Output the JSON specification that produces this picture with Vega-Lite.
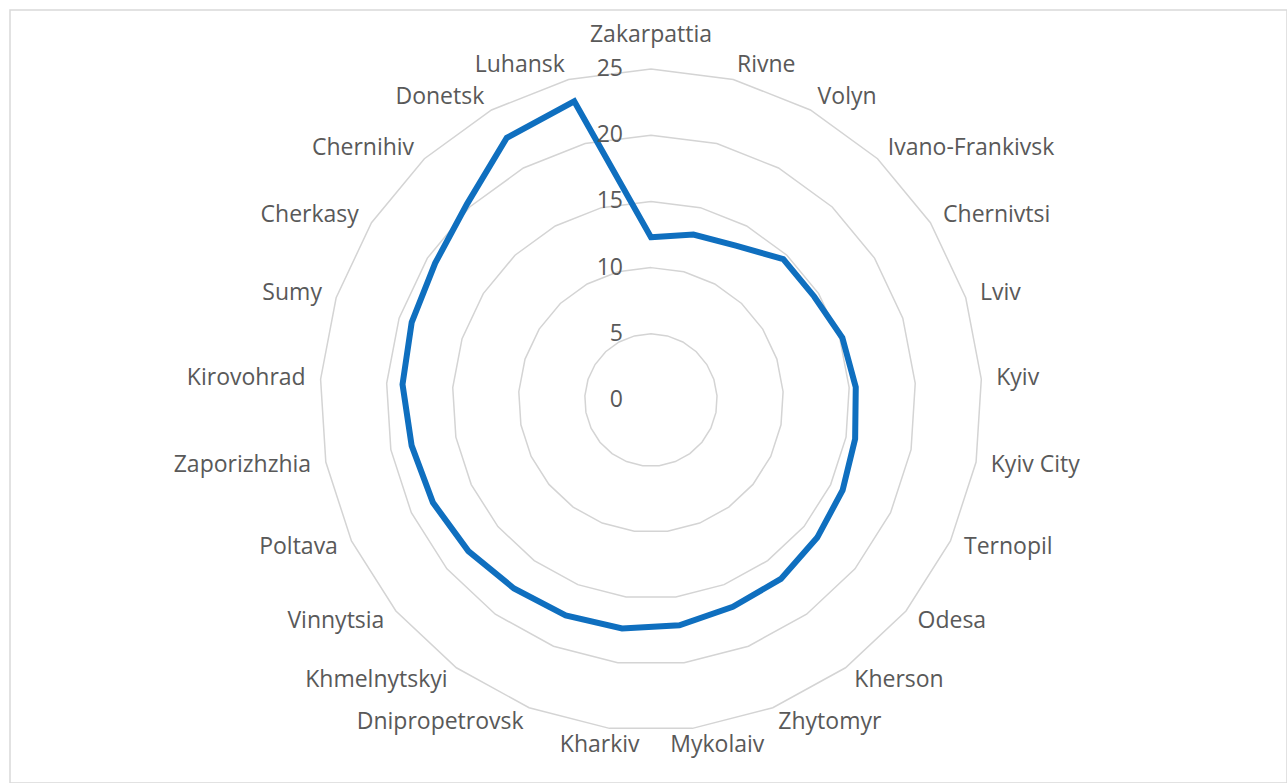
{
  "$schema": "https://vega.github.io/schema/vega-lite/v6.json",
  "width": 1277,
  "height": 773,
  "autosize": "none",
  "padding": {"left": 10, "top": 10, "right": 0, "bottom": 0},
  "background": "white",
  "config": {"view": {"stroke": "#D9D9D9", "strokeWidth": 1.5}, "font": "Open Sans"},
  "datasets": {
    "regions": [
      {"idx": 0, "region": "Zakarpattia", "value": 12.3},
      {"idx": 1, "region": "Rivne", "value": 12.9},
      {"idx": 2, "region": "Volyn", "value": 13.3},
      {"idx": 3, "region": "Ivano-Frankivsk", "value": 14.6},
      {"idx": 4, "region": "Chernivtsi", "value": 14.6},
      {"idx": 5, "region": "Lviv", "value": 15.2},
      {"idx": 6, "region": "Kyiv", "value": 15.5},
      {"idx": 7, "region": "Kyiv City", "value": 15.7},
      {"idx": 8, "region": "Ternopil", "value": 16.0},
      {"idx": 9, "region": "Odesa", "value": 16.3},
      {"idx": 10, "region": "Kherson", "value": 16.7},
      {"idx": 11, "region": "Zhytomyr", "value": 16.8},
      {"idx": 12, "region": "Mykolaiv", "value": 17.15},
      {"idx": 13, "region": "Kharkiv", "value": 17.4},
      {"idx": 14, "region": "Dnipropetrovsk", "value": 17.5},
      {"idx": 15, "region": "Khmelnytskyi", "value": 17.6},
      {"idx": 16, "region": "Vinnytsia", "value": 17.9},
      {"idx": 17, "region": "Poltava", "value": 18.2},
      {"idx": 18, "region": "Zaporizhzhia", "value": 18.4},
      {"idx": 19, "region": "Kirovohrad", "value": 18.8},
      {"idx": 20, "region": "Sumy", "value": 19.0},
      {"idx": 21, "region": "Cherkasy", "value": 19.3},
      {"idx": 22, "region": "Chernihiv", "value": 20.3},
      {"idx": 23, "region": "Donetsk", "value": 22.6},
      {"idx": 24, "region": "Luhansk", "value": 23.3}
    ]
  },
  "data": {"name": "regions"},
  "transform": [{"calculate": "datum.idx * 2 * PI / 25", "as": "angle"}],
  "encoding": {
    "x": {"field": "px", "type": "quantitative", "scale": {"domain": [-48.41, 48.04], "nice": false, "zero": false}, "axis": null},
    "y": {"field": "py", "type": "quantitative", "scale": {"domain": [-28.93, 29.46], "nice": false, "zero": false}, "axis": null}
  },
  "layer": [
    {
      "transform": [
        {"calculate": "[5, 10, 15, 20, 25]", "as": "levels"},
        {"flatten": ["levels"], "as": ["level"]},
        {"calculate": "datum.level * sin(datum.angle)", "as": "px"},
        {"calculate": "datum.level * cos(datum.angle)", "as": "py"}
      ],
      "mark": {"type": "line", "interpolate": "linear-closed", "stroke": "#D4D4D4", "strokeWidth": 1.5},
      "encoding": {"detail": {"field": "level"}, "order": {"field": "idx", "type": "quantitative"}}
    },
    {
      "transform": [
        {"calculate": "datum.value * sin(datum.angle)", "as": "px"},
        {"calculate": "datum.value * cos(datum.angle)", "as": "py"}
      ],
      "mark": {"type": "line", "interpolate": "linear-closed", "stroke": "#0F6FBF", "strokeWidth": 6, "strokeJoin": "miter"},
      "encoding": {"order": {"field": "idx", "type": "quantitative"}}
    },
    {
      "transform": [
        {"filter": "datum.idx == 0"},
        {"calculate": "[0, 5, 10, 15, 20, 25]", "as": "levels"},
        {"flatten": ["levels"], "as": ["level"]},
        {"calculate": "0", "as": "px"},
        {"calculate": "datum.level", "as": "py"}
      ],
      "mark": {"type": "text", "align": "right", "baseline": "middle", "dx": -28, "fontSize": 23, "color": "#595959"},
      "encoding": {"text": {"field": "level", "type": "quantitative"}}
    },
    {
      "transform": [
        {"filter": "sin(datum.angle) > 0.2"},
        {"calculate": "26.13 * sin(datum.angle)", "as": "px"},
        {"calculate": "26.13 * cos(datum.angle)", "as": "py"}
      ],
      "mark": {"type": "text", "align": "left", "baseline": "middle", "fontSize": 23, "color": "#595959"},
      "encoding": {"text": {"field": "region"}}
    },
    {
      "transform": [
        {"filter": "sin(datum.angle) < -0.2"},
        {"calculate": "26.13 * sin(datum.angle)", "as": "px"},
        {"calculate": "26.13 * cos(datum.angle)", "as": "py"}
      ],
      "mark": {"type": "text", "align": "right", "baseline": "middle", "fontSize": 23, "color": "#595959"},
      "encoding": {"text": {"field": "region"}}
    },
    {
      "transform": [
        {"filter": "abs(sin(datum.angle)) <= 0.2 && cos(datum.angle) > 0"},
        {"calculate": "26.13 * sin(datum.angle)", "as": "px"},
        {"calculate": "26.13 * cos(datum.angle)", "as": "py"}
      ],
      "mark": {"type": "text", "align": "center", "baseline": "middle", "dy": -19, "fontSize": 23, "color": "#595959"},
      "encoding": {"text": {"field": "region"}}
    },
    {
      "transform": [
        {"filter": "abs(sin(datum.angle)) <= 0.2 && cos(datum.angle) < 0 && sin(datum.angle) > 0"},
        {"calculate": "26.13 * sin(datum.angle)", "as": "px"},
        {"calculate": "26.13 * cos(datum.angle)", "as": "py"}
      ],
      "mark": {"type": "text", "align": "left", "baseline": "middle", "dx": -24, "dy": 2, "fontSize": 23, "color": "#595959"},
      "encoding": {"text": {"field": "region"}}
    },
    {
      "transform": [
        {"filter": "abs(sin(datum.angle)) <= 0.2 && cos(datum.angle) < 0 && sin(datum.angle) < 0"},
        {"calculate": "26.13 * sin(datum.angle)", "as": "px"},
        {"calculate": "26.13 * cos(datum.angle)", "as": "py"}
      ],
      "mark": {"type": "text", "align": "right", "baseline": "middle", "dx": 32, "dy": 2, "fontSize": 23, "color": "#595959"},
      "encoding": {"text": {"field": "region"}}
    }
  ]
}
